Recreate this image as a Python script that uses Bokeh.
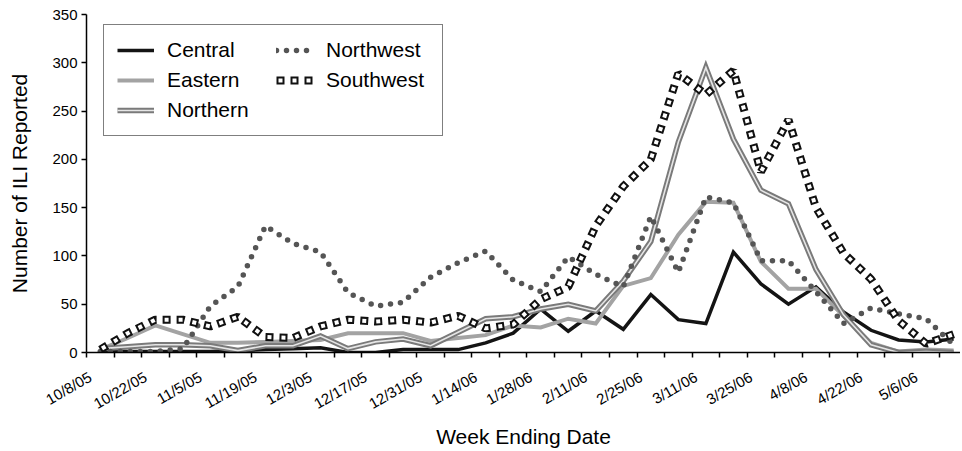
from bokeh.plotting import figure
from bokeh.models import Range1d, FixedTicker, Legend, LegendItem, ColumnDataSource
from bokeh.embed import file_html
from bokeh.resources import INLINE

# ---- data -------------------------------------------------------------
week = list(range(32))  # week index, week ending 10/8/05 ... 5/13/06
tick_weeks = [0, 2, 4, 6, 8, 10, 12, 14, 16, 18, 20, 22, 24, 26, 28, 30]
tick_labels = ["10/8/05", "10/22/05", "11/5/05", "11/19/05", "12/3/05",
               "12/17/05", "12/31/05", "1/14/06", "1/28/06", "2/11/06",
               "2/25/06", "3/11/06", "3/25/06", "4/8/06", "4/22/06", "5/6/06"]
y_ticks = [0, 50, 100, 150, 200, 250, 300, 350]

central = [2, 1, 1, 1, 1, 2, 3, 4, 5, 0, 0, 3, 3, 3, 10, 20, 45, 22, 43, 24,
           60, 34, 30, 104, 71, 50, 68, 42, 23, 13, 11, 14]
eastern = [3, 15, 28, 19, 10, 10, 11, 12, 13, 20, 20, 20, 12, 15, 18, 28, 26,
           35, 30, 69, 77, 122, 156, 155, 94, 66, 66, 38, 10, 1, 3, 2]
northern = [4, 6, 8, 8, 7, 2, 7, 7, 17, 4, 11, 14, 7, 21, 35, 37, 45, 50, 43,
            74, 115, 218, 295, 221, 168, 154, 86, 39, 8, 0, 1, 0]
northwest = [1, 1, 1, 4, 48, 68, 131, 113, 104, 62, 48, 52, 78, 93, 105, 75,
             63, 99, 81, 68, 141, 83, 161, 155, 95, 95, 63, 30, 46, 40, 35, 8]
southwest = [3, 20, 34, 34, 27, 37, 16, 15, 27, 34, 32, 34, 31, 38, 25, 29, 55,
             68, 131, 172, 200, 289, 267, 292, 187, 241, 150, 103, 76, 33, 9, 19]

src = ColumnDataSource(dict(week=week, central=central, eastern=eastern,
                            northern=northern, northwest=northwest,
                            southwest=southwest))

FONT = "Liberation Sans"

p = figure(width=960, height=451, output_backend="svg", toolbar_location=None,
           x_range=Range1d(-0.5, 31.25), y_range=Range1d(0, 350),
           min_border_left=86, min_border_right=0, min_border_top=14,
           min_border_bottom=96)
p.xgrid.visible = False
p.ygrid.visible = False
p.outline_line_color = None
p.background_fill_color = "white"
p.border_fill_color = "white"

# ---- series ----------------------------------------------------------------
r_c = p.line("week", "central", source=src, line_color="#141414",
             line_width=3.5, line_join="miter")
r_e = p.line("week", "eastern", source=src, line_color="#a3a3a3",
             line_width=4, line_join="miter")
r_n1 = p.line("week", "northern", source=src, line_color="#7a7a7a",
              line_width=5.5, line_join="miter")
r_n2 = p.line("week", "northern", source=src, line_color="#e6e6e6",
              line_width=1.6, line_join="miter")
r_nw = p.line("week", "northwest", source=src, line_color="#555555",
              line_width=5.5, line_dash="0 10", line_cap="round")
r_sw1 = p.line("week", "southwest", source=src, line_color="#111111",
               line_width=8, line_dash="8 6", line_cap="butt")
r_sw2 = p.line("week", "southwest", source=src, line_color="white",
               line_width=4, line_dash="0 2 4 8", line_cap="butt")

# ---- axes ------------------------------------------------------------------
label_pos = [w - 0.36 for w in tick_weeks]
xa = p.xaxis[0]
xa.ticker = FixedTicker(ticks=label_pos,
                        minor_ticks=[w - 0.5 for w in week] + [week[-1] + 0.5])
xa.major_label_overrides = {pos: l for pos, l in zip(label_pos, tick_labels)}
xa.major_tick_out = 0
xa.major_tick_in = 0
xa.minor_tick_out = 5
xa.minor_tick_in = 0
xa.minor_tick_line_color = "black"
xa.minor_tick_line_width = 1.5
xa.major_label_orientation = 0.52
xa.major_label_standoff = 18
xa.axis_line_width = 1.5
xa.axis_line_color = "black"
xa.major_label_text_font = FONT
xa.major_label_text_font_size = "15px"
xa.major_label_text_color = "black"
xa.axis_label = "Week Ending Date"
xa.axis_label_text_font = FONT
xa.axis_label_text_font_size = "21px"
xa.axis_label_text_font_style = "normal"
xa.axis_label_text_color = "black"
xa.axis_label_standoff = 3

ya = p.yaxis[0]
ya.ticker = FixedTicker(ticks=y_ticks, minor_ticks=[])
ya.major_tick_out = 5
ya.major_tick_in = 0
ya.major_tick_line_width = 1.5
ya.major_tick_line_color = "black"
ya.axis_line_width = 1.5
ya.axis_line_color = "black"
ya.major_label_text_font = FONT
ya.major_label_text_font_size = "15px"
ya.major_label_text_color = "black"
ya.major_label_standoff = 4
ya.axis_label = "Number of ILI Reported"
ya.axis_label_text_font = FONT
ya.axis_label_text_font_size = "21px"
ya.axis_label_text_font_style = "normal"
ya.axis_label_text_color = "black"
ya.axis_label_standoff = 18

# ---- legend ----------------------------------------------------------------
legend = Legend(items=[
    LegendItem(label="Central", renderers=[r_c]),
    LegendItem(label="Eastern", renderers=[r_e]),
    LegendItem(label="Northern", renderers=[r_n1, r_n2]),
    LegendItem(label="Northwest", renderers=[r_nw]),
    LegendItem(label="Southwest", renderers=[r_sw1, r_sw2]),
], location=(17, 216), orientation="vertical", nrows=3)
legend.label_text_font = FONT
legend.label_text_font_size = "21px"
legend.label_text_color = "black"
legend.label_height = 20
legend.label_width = 103
legend.glyph_width = 37
legend.glyph_height = 20
legend.label_standoff = 13
legend.spacing = 6
legend.padding = 13
legend.margin = 0
legend.border_line_color = "black"
legend.border_line_width = 1.5
legend.background_fill_color = "white"
legend.background_fill_alpha = 1.0
p.add_layout(legend)

open("out.html", "w").write(file_html(p, INLINE))
